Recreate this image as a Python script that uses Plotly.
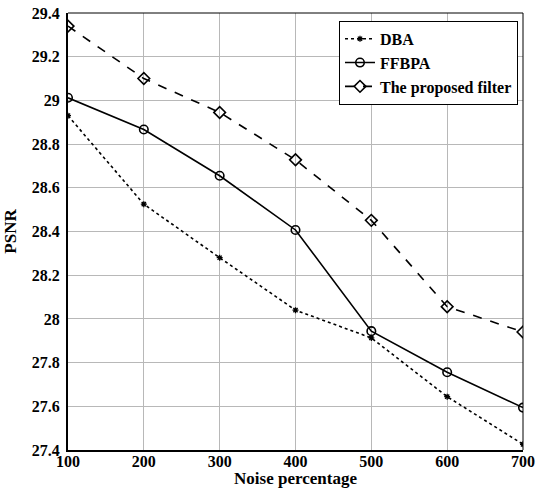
import plotly.graph_objects as go

noise = [100, 200, 300, 400, 500, 600, 700]
psnr_dba = [28.93, 28.525, 28.28, 28.04, 27.913, 27.644, 27.426]
psnr_ffbpa = [29.012, 28.867, 28.655, 28.407, 27.944, 27.756, 27.594]
psnr_proposed = [29.34, 29.10, 28.945, 28.728, 28.451, 28.056, 27.94]

y_ticks = [27.4, 27.6, 27.8, 28, 28.2, 28.4, 28.6, 28.8, 29, 29.2, 29.4]
y_tick_text = ["27.4", "27.6", "27.8", "28", "28.2", "28.4", "28.6", "28.8", "29", "29.2", "29.4"]

serif = "Liberation Serif"

fig = go.Figure()
fig.add_trace(go.Scatter(
    x=noise, y=psnr_dba, name="DBA", mode="lines+markers",
    line=dict(color="black", width=1.6, dash="dot"),
    marker=dict(symbol="asterisk-open", size=5, color="black",
                line=dict(color="black", width=1.3)),
))
fig.add_trace(go.Scatter(
    x=noise, y=psnr_ffbpa, name="FFBPA", mode="lines+markers",
    line=dict(color="black", width=1.6),
    marker=dict(symbol="circle-open", size=8.5, color="black",
                line=dict(color="black", width=1.6)),
))
fig.add_trace(go.Scatter(
    x=noise, y=psnr_proposed, name="The proposed filter", mode="lines+markers",
    line=dict(color="black", width=1.6, dash="dash"),
    marker=dict(symbol="diamond-open", size=9, color="black",
                line=dict(color="black", width=1.6)),
))

axis_common = dict(
    showgrid=True, gridcolor="#b8b8b8", gridwidth=1,
    ticks="", zeroline=False, automargin=False,
    tickfont=dict(family=serif, size=16, color="black", weight="bold"),
    showline=True, linecolor="black", linewidth=2, mirror=False,
)

fig.update_xaxes(
    range=[100, 700], tickvals=noise, ticklabelstandoff=-4, **axis_common,
    title=dict(text="Noise percentage", standoff=4,
               font=dict(family=serif, size=17, color="black", weight="bold")),
)
fig.update_yaxes(
    range=[27.4, 29.4], tickvals=y_ticks, ticktext=y_tick_text,
    ticklabelstandoff=3, **axis_common,
    title=dict(text="PSNR", standoff=11,
               font=dict(family=serif, size=17, color="black", weight="bold")),
)

# thin frame on the top and right edges of the plotting area
fig.add_shape(type="line", xref="paper", yref="paper", x0=0, x1=1, y0=1, y1=1,
              line=dict(color="black", width=1))
fig.add_shape(type="line", xref="paper", yref="paper", x0=1, x1=1, y0=0, y1=1,
              line=dict(color="black", width=1))

fig.update_layout(
    width=536, height=488,
    margin=dict(l=68, r=13, t=13, b=38),
    plot_bgcolor="white", paper_bgcolor="white",
    showlegend=True,
    legend=dict(
        x=0.989, y=0.982, xanchor="right", yanchor="top",
        bgcolor="white", bordercolor="black", borderwidth=1,
        font=dict(family=serif, size=16, color="black", weight="bold"),
        tracegroupgap=0, itemwidth=30,
    ),
)

fig.write_html("out.html")
